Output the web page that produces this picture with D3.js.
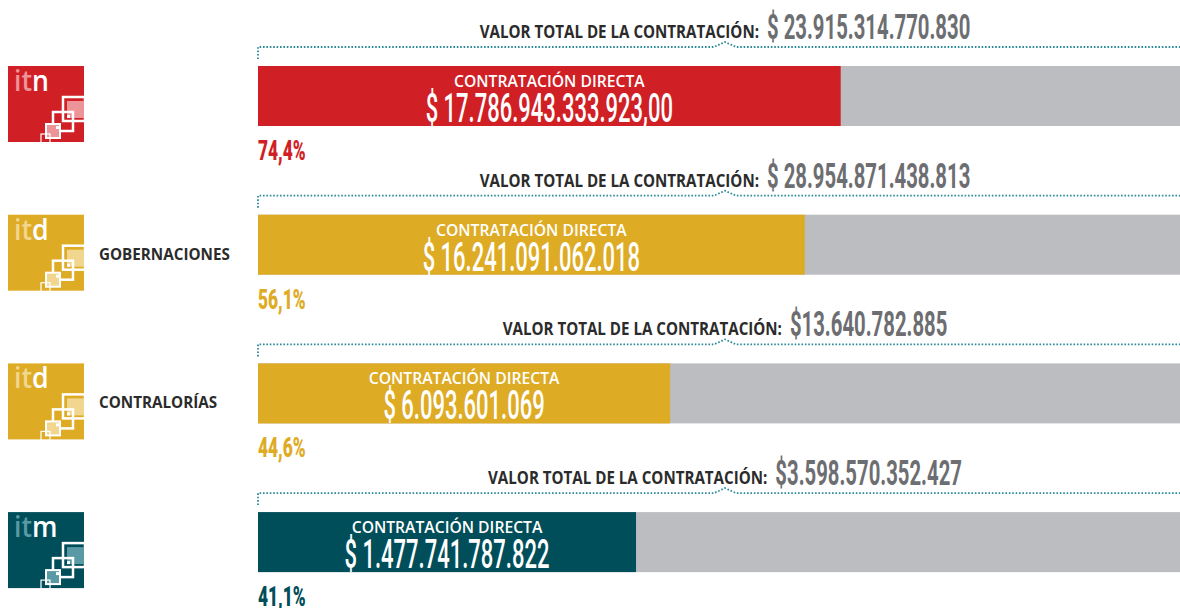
<!DOCTYPE html>
<html>
<head>
<meta charset="utf-8">
<script src="https://cdn.jsdelivr.net/npm/d3@7"></script>
<style>
  body { margin: 0; background: #fff; }
</style>
</head>
<body>
<div id="chart"></div>
<script>
var logos = ["itn", "itd", "itd", "itm"];
var categories = ["", "GOBERNACIONES", "CONTRALORÍAS", ""];
var totalLabels = ["$ 23.915.314.770.830", "$ 28.954.871.438.813", "$13.640.782.885", "$3.598.570.352.427"];
var directLabels = ["$ 17.786.943.333.923,00", "$ 16.241.091.062.018", "$ 6.093.601.069", "$ 1.477.741.787.822"];
var pctLabels = ["74,4%", "56,1%", "44,6%", "41,1%"];
// bar length as drawn in the picture (% of the grey bar)
var barShare = [63.2, 59.3, 44.7, 41.0];

var palette = [
  {base: "#d11f26", light: "#ec9497"},
  {base: "#deab25", light: "#f1d68f"},
  {base: "#deab25", light: "#f1d68f"},
  {base: "#004e59", light: "#5a9aa5"}
];

var w = 1180, h = 608;
var rowTop = 66, rowStep = 148.7, barH = 60;

var svg = d3.select("#chart").append("svg")
    .attr("width", w)
    .attr("height", h);

var x = d3.scaleLinear()
    .domain([0, 100])
    .range([258, 1180]);

var y = d3.scaleLinear()
    .domain([0, 1])
    .range([rowTop, rowTop + rowStep]);

var numFont = "Roboto, 'Liberation Sans', sans-serif";
var txtFont = "'Open Sans', 'Noto Sans', sans-serif";

// squeeze text horizontally to mimic the condensed face
function condense(sel, k) {
  sel.each(function() {
    var len = this.getComputedTextLength();
    d3.select(this).attr("textLength", len * k).attr("lengthAdjust", "spacingAndGlyphs");
  });
}

var rows = svg.selectAll("g.row")
    .data(d3.range(barShare.length))
    .enter().append("g")
    .attr("class", "row")
    .attr("transform", function(i) { return "translate(0," + y(i) + ")"; });

// grey full bar
rows.append("rect")
    .attr("x", x(0))
    .attr("y", 0)
    .attr("width", x(100) - x(0))
    .attr("height", barH)
    .attr("fill", "#bcbdc0");

// direct contracting bar
rows.append("rect")
    .attr("x", x(0))
    .attr("y", 0)
    .attr("width", function(i) { return x(barShare[i]) - x(0); })
    .attr("height", barH)
    .attr("fill", function(i) { return palette[i].base; });

// labels inside the bar
rows.append("text")
    .attr("x", function(i) { return (x(0) + x(barShare[i])) / 2; })
    .attr("y", 21)
    .attr("text-anchor", "middle")
    .attr("fill", "#fff")
    .style("font-family", txtFont)
    .style("font-weight", 600)
    .style("font-size", "16.5px")
    .text("CONTRATACIÓN DIRECTA")
    .call(condense, 0.95);

rows.append("text")
    .attr("x", function(i) { return (x(0) + x(barShare[i])) / 2; })
    .attr("y", 56)
    .attr("text-anchor", "middle")
    .attr("fill", "#fff")
    .style("font-family", numFont)
    .style("font-weight", 500)
    .style("font-size", "40px")
    .text(function(i) { return directLabels[i]; })
    .call(condense, 0.55);

// percent under the bar
rows.append("text")
    .attr("x", x(0))
    .attr("y", 94)
    .attr("fill", function(i) { return palette[i].base; })
    .style("font-family", numFont)
    .style("font-weight", 900)
    .style("font-size", "28px")
    .text(function(i) { return pctLabels[i]; })
    .call(condense, 0.62);

// dotted bracket above each bar
var cx = 725, lineY = -19;
rows.append("path")
    .attr("d", function() {
      var p = d3.path();
      p.moveTo(x(0), lineY + 12);
      p.lineTo(x(0), lineY);
      p.lineTo(cx - 11, lineY);
      p.lineTo(cx, lineY - 5);
      p.lineTo(cx + 11, lineY);
      p.lineTo(x(100), lineY);
      return p.toString();
    })
    .attr("fill", "none")
    .attr("stroke", "#2a8a98")
    .attr("stroke-width", 1.8)
    .attr("stroke-dasharray", "1.6,1.8");

// title: label + total value, centred on the bracket bump
rows.each(function(i) {
  var g = d3.select(this);
  var lab = g.append("text")
      .attr("y", -28)
      .attr("fill", "#2b2b2b")
      .style("font-family", txtFont)
      .style("font-weight", 700)
      .style("font-size", "18px")
      .text("VALOR TOTAL DE LA CONTRATACIÓN:")
      .call(condense, 0.84);
  var val = g.append("text")
      .attr("y", -27)
      .attr("fill", "#6d6e71")
      .style("font-family", numFont)
      .style("font-weight", 700)
      .style("font-size", "35px")
      .text(totalLabels[i])
      .call(condense, 0.58);
  var lw = +lab.attr("textLength"), vw = +val.attr("textLength"), gap = 8;
  var start = cx - (lw + gap + vw) / 2;
  lab.attr("x", start);
  val.attr("x", start + lw + gap);
});

// category name next to the logo
rows.append("text")
    .attr("x", 99)
    .attr("y", 45)
    .attr("fill", "#2b2b2b")
    .style("font-family", txtFont)
    .style("font-weight", 700)
    .style("font-size", "16px")
    .text(function(i) { return categories[i]; })
    .call(condense, 0.95);

// logos
rows.each(function(i) {
  var c = palette[i];
  var g = d3.select(this).append("g").attr("transform", "translate(8,0)");
  g.append("rect").attr("width", 76).attr("height", 76).attr("fill", c.base);
  var t = g.append("text")
      .attr("x", 6)
      .attr("y", 25)
      .style("font-family", txtFont)
      .style("font-size", "29px")
      .style("font-weight", 600);
  t.append("tspan").attr("fill", c.light).text(logos[i].slice(0, 2));
  t.append("tspan").attr("fill", "#fff").text(logos[i].slice(2));
  t.call(condense, 0.92);
  // stacked squares
  g.append("rect").attr("x", 55).attr("y", 31).attr("width", 22).attr("height", 24)
      .attr("fill", "none").attr("stroke", "#fff").attr("stroke-width", 2.5);
  g.append("rect").attr("x", 59).attr("y", 35).attr("width", 17).attr("height", 17)
      .attr("fill", c.light);
  g.append("rect").attr("x", 45).attr("y", 46).attr("width", 20).attr("height", 19)
      .attr("fill", "none").attr("stroke", "#fff").attr("stroke-width", 2.5);
  g.append("rect").attr("x", 59).attr("y", 49).attr("width", 3).attr("height", 3).attr("fill", "#fff");
  g.append("rect").attr("x", 38).attr("y", 58).attr("width", 14).attr("height", 14)
      .attr("fill", c.light).attr("stroke", "#fff").attr("stroke-width", 2);
  g.append("rect").attr("x", 48).attr("y", 60).attr("width", 3).attr("height", 3).attr("fill", "#fff");
  g.append("rect").attr("x", 33).attr("y", 68).attr("width", 9).attr("height", 9)
      .attr("fill", "none").attr("stroke", "#fff").attr("stroke-width", 1.2);
});
</script>
</body>
</html>
